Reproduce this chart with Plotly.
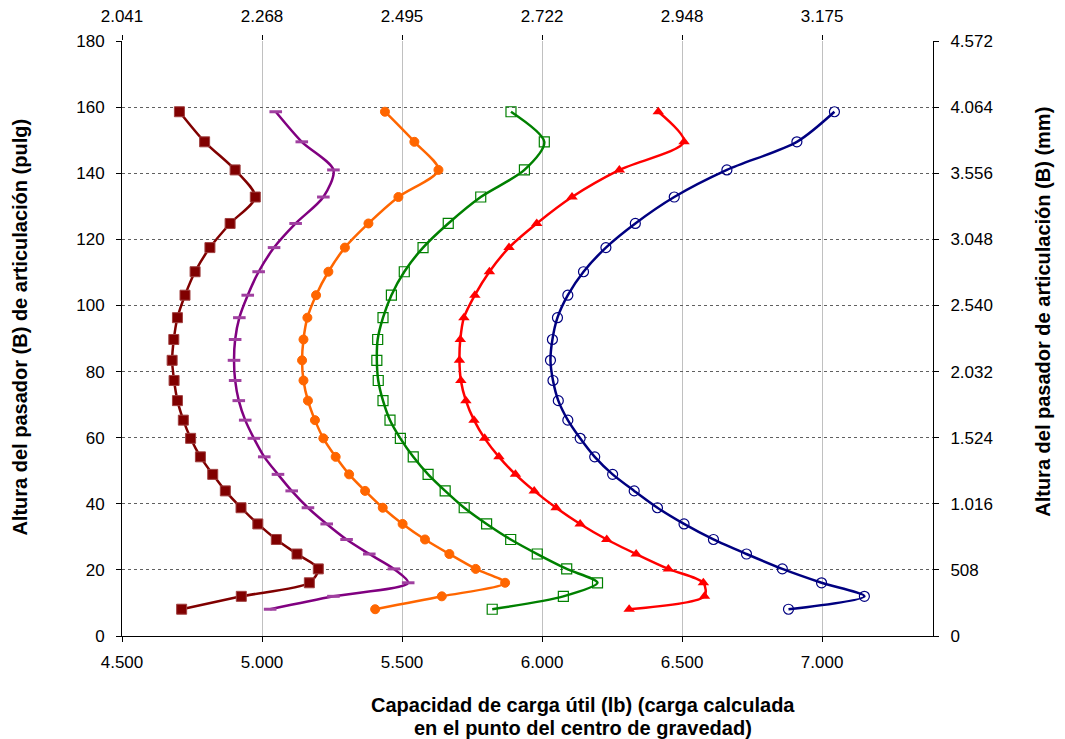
import plotly.graph_objects as go

# Heights of the pivot pin (pulg) shared by all curves
altura_pulg = [8.1, 12.0, 16.1, 20.3, 24.8, 29.2, 33.9, 38.8, 43.9, 48.9, 54.2, 59.8, 65.3,
               71.2, 77.3, 83.4, 89.7, 96.3, 103.1, 110.2, 117.5, 124.8, 132.8, 141.0, 149.5, 158.6]

# Payload capacity (lb) per curve
serie_1 = [4713, 4926, 5169, 5201, 5125, 5051, 4985, 4925, 4869, 4824, 4780, 4745, 4719,
           4698, 4686, 4679, 4685, 4698, 4725, 4761, 4814, 4886, 4976, 4904, 4795, 4705]
serie_2 = [5029, 5255, 5522, 5471, 5383, 5302, 5231, 5164, 5106, 5057, 5008, 4971, 4940,
           4917, 4904, 4900, 4904, 4919, 4949, 4988, 5043, 5120, 5219, 5255, 5142, 5049]
serie_3 = [5404, 5642, 5868, 5763, 5669, 5582, 5502, 5431, 5368, 5311, 5263, 5219, 5189,
           5164, 5148, 5143, 5148, 5162, 5193, 5237, 5296, 5380, 5487, 5630, 5544, 5439]
serie_4 = [5822, 6076, 6198, 6088, 5983, 5888, 5802, 5722, 5654, 5593, 5540, 5494, 5457,
           5432, 5415, 5410, 5413, 5432, 5462, 5508, 5575, 5665, 5781, 5937, 6008, 5889]
serie_5 = [6311, 6580, 6576, 6451, 6336, 6231, 6136, 6050, 5972, 5905, 5846, 5795, 5757,
           5728, 5710, 5705, 5708, 5721, 5760, 5812, 5882, 5981, 6107, 6276, 6507, 6415]
serie_6 = [6880, 7151, 6998, 6858, 6730, 6612, 6507, 6412, 6329, 6252, 6188, 6136, 6092,
           6058, 6039, 6030, 6037, 6055, 6092, 6148, 6228, 6333, 6472, 6660, 6910, 7044]

# Tick values / labels
lb_ticks = [4500, 5000, 5500, 6000, 6500, 7000]
lb_labels = ["4.500", "5.000", "5.500", "6.000", "6.500", "7.000"]
kg_labels = ["2.041", "2.268", "2.495", "2.722", "2.948", "3.175"]
pulg_ticks = [0, 20, 40, 60, 80, 100, 120, 140, 160, 180]
mm_ticks = [0, 508, 1016, 1524, 2032, 2540, 3048, 3556, 4064, 4572]
mm_labels = ["0", "508", "1.016", "1.524", "2.032", "2.540", "3.048", "3.556", "4.064", "4.572"]

x_range = [4500, 7396]

series = [
    (serie_1, "#800000", dict(symbol="square", size=10, color="#800000",
                              line=dict(color="#a04040", width=1))),
    (serie_2, "#800080", dict(symbol="line-ew", size=9,
                              line=dict(color="#a040a0", width=3))),
    (serie_3, "#FF6600", dict(symbol="circle", size=9, color="#FF6600",
                              line=dict(color="#FF6600", width=1))),
    (serie_4, "#008000", dict(symbol="square-open", size=10,
                              line=dict(color="#30a030", width=1.2))),
    (serie_5, "#FF0000", dict(symbol="triangle-up", size=10, color="#FF0000",
                              line=dict(color="#FF0000", width=0))),
    (serie_6, "#000080", dict(symbol="circle-open", size=10,
                              line=dict(color="#2020a0", width=1.2))),
]

fig = go.Figure()
for vals, col, mk in series:
    fig.add_trace(go.Scatter(
        x=vals, y=altura_pulg, mode="lines+markers",
        line=dict(color=col, width=2.5, shape="spline", smoothing=0.8),
        marker=mk, showlegend=False, hoverinfo="x+y"))

# anchor traces for secondary axes (no data)
fig.add_trace(go.Scatter(x=[], y=[], xaxis="x2", yaxis="y", showlegend=False))
fig.add_trace(go.Scatter(x=[], y=[], xaxis="x", yaxis="y2", showlegend=False))

tickfont = dict(family="Liberation Sans, Arial", size=17, color="black")
title_font = dict(family="Liberation Sans, Arial", size=20, color="black")

fig.update_layout(
    width=1057, height=731,
    margin=dict(l=114, r=132, t=33, b=103, autoexpand=False),
    plot_bgcolor="white", paper_bgcolor="white",
    font=dict(family="Liberation Sans, Arial", size=17, color="black"),
    xaxis=dict(range=x_range, tickvals=lb_ticks, ticktext=lb_labels,
               showline=True, linecolor="black", linewidth=1,
               ticks="outside", ticklen=5, tickcolor="black",
               showgrid=True, gridcolor="#c0c0c0", gridwidth=1,
               zeroline=False, tickfont=tickfont, ticklabelstandoff=6,
               automargin=False),
    xaxis2=dict(range=x_range, tickvals=lb_ticks, ticktext=kg_labels,
                overlaying="x", side="top", anchor="y",
                showline=False, ticks="outside", ticklen=5, tickcolor="black",
                showgrid=False, zeroline=False, tickfont=tickfont, ticklabelstandoff=6,
                automargin=False),
    yaxis=dict(range=[0, 180], tickvals=pulg_ticks,
               showline=True, linecolor="black", linewidth=1,
               ticks="outside", ticklen=5, tickcolor="black",
               showgrid=True, gridcolor="#606060", gridwidth=1, griddash="dot",
               zeroline=False, tickfont=tickfont, ticklabelstandoff=8,
               automargin=False),
    yaxis2=dict(range=[0, 4572], tickvals=mm_ticks, ticktext=mm_labels,
                overlaying="y", side="right", anchor="x",
                showline=True, linecolor="black", linewidth=1,
                ticks="outside", ticklen=5, tickcolor="black",
                showgrid=False, zeroline=False, tickfont=tickfont, ticklabelstandoff=8,
                automargin=False),
    annotations=[
        dict(text="<b>Altura del pasador (B) de articulación (pulg)</b>",
             xref="paper", yref="paper", x=-0.1258, y=0.52, textangle=-90,
             xanchor="center", yanchor="middle", showarrow=False,
             font=title_font),
        dict(text="<b>Altura del pasador de articulación (B) (mm)</b>",
             xref="paper", yref="paper", x=1.1357, y=0.545, textangle=-90,
             xanchor="center", yanchor="middle", showarrow=False,
             font=title_font),
        dict(text="<b>Capacidad de carga útil (lb) (carga calculada</b>",
             xref="paper", yref="paper", x=0.568, y=-0.116,
             xanchor="center", yanchor="middle", showarrow=False,
             font=title_font),
        dict(text="<b>en el punto del centro de gravedad)</b>",
             xref="paper", yref="paper", x=0.568, y=-0.1546,
             xanchor="center", yanchor="middle", showarrow=False,
             font=title_font),
    ],
)

fig.write_html("out.html")
